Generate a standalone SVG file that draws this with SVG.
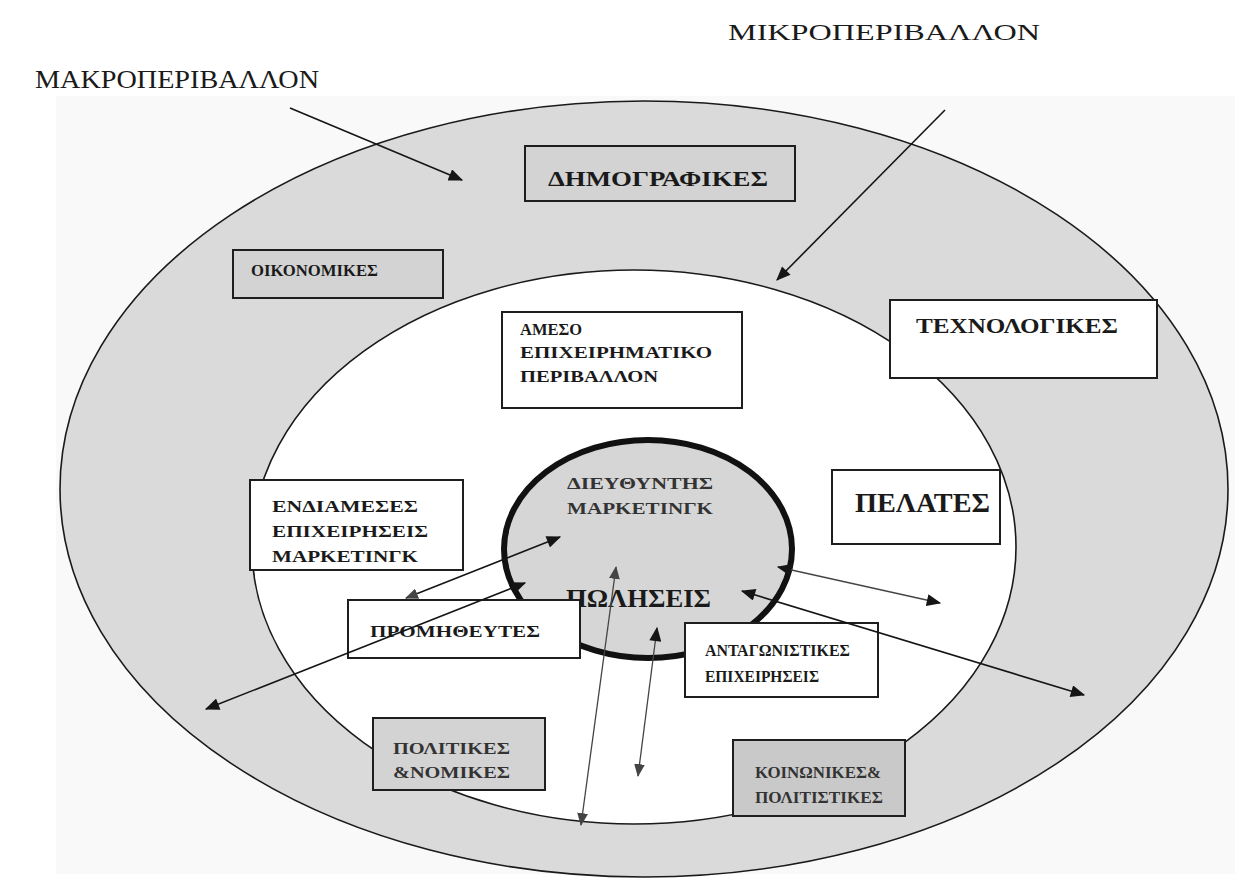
<svg xmlns="http://www.w3.org/2000/svg" width="1235" height="879" viewBox="0 0 1235 879">
<style>
  .lbl{font-family:"Liberation Serif","Times New Roman",serif;fill:#1a1a1a}
  .b{font-weight:bold}
  .dim{fill:#333}
  .box{stroke:#1e1e1e;stroke-width:2}
  .wbox{fill:#ffffff}
  .gbox{fill:#d3d3d3}
  .conn{fill:none;stroke:#151515;stroke-width:1.6}
  .connl{fill:none;stroke:#444;stroke-width:1.3}
</style>
<defs>
  <marker id="ah" viewBox="0 0 12 10" refX="11" refY="5" markerWidth="15" markerHeight="12" markerUnits="userSpaceOnUse" orient="auto-start-reverse">
    <path d="M0,0 L12,5 L0,10 z" fill="#151515"/>
  </marker>
  <marker id="ahg" viewBox="0 0 12 10" refX="11" refY="5" markerWidth="13" markerHeight="11" markerUnits="userSpaceOnUse" orient="auto-start-reverse">
    <path d="M0,0 L12,5 L0,10 z" fill="#444"/>
  </marker>
</defs>
<rect width="1235" height="879" fill="#ffffff"/>
<rect x="56" y="96" width="1179" height="778" fill="#f9f9f9"/>

<g id="macro-env">
  <ellipse cx="644" cy="489" rx="584" ry="388" fill="#dadada" stroke="#1a1a1a" stroke-width="1.6"/>
</g>
<g id="micro-env">
  <ellipse cx="634" cy="547" rx="382" ry="277" fill="#ffffff" stroke="#1a1a1a" stroke-width="1.6"/>
</g>
<g id="core">
  <ellipse cx="648" cy="549" rx="144" ry="109" fill="#d6d6d6" stroke="#111" stroke-width="6"/>
</g>

<g id="title-macro"><text class="lbl" x="35" y="88" font-size="26" textLength="284" lengthAdjust="spacingAndGlyphs">ΜΑΚΡΟΠΕΡΙΒΑΛΛΟΝ</text></g>
<g id="title-micro"><text class="lbl" x="728" y="40" font-size="24" textLength="312" lengthAdjust="spacingAndGlyphs">ΜΙΚΡΟΠΕΡΙΒΑΛΛΟΝ</text></g>

<g id="demografikes">
  <rect class="box gbox" x="525" y="146" width="270" height="55"/>
  <text class="lbl b" x="548" y="186" font-size="21" textLength="220" lengthAdjust="spacingAndGlyphs">ΔΗΜΟΓΡΑΦΙΚΕΣ</text>
</g>
<g id="oikonomikes">
  <rect class="box gbox" x="233" y="250" width="210" height="48"/>
  <text class="lbl b" x="251" y="276" font-size="17" textLength="127" lengthAdjust="spacingAndGlyphs">ΟΙΚΟΝΟΜΙΚΕΣ</text>
</g>
<g id="texnologikes">
  <rect class="box wbox" x="890" y="300" width="267" height="78"/>
  <text class="lbl b" x="916" y="333" font-size="22" textLength="202" lengthAdjust="spacingAndGlyphs">ΤΕΧΝΟΛΟΓΙΚΕΣ</text>
</g>
<g id="ameso">
  <rect class="box wbox" x="502" y="312" width="240" height="96"/>
  <text class="lbl b" x="520" y="335" font-size="17" textLength="62" lengthAdjust="spacingAndGlyphs">ΑΜΕΣΟ</text>
  <text class="lbl b" x="520" y="358" font-size="17" textLength="192" lengthAdjust="spacingAndGlyphs">ΕΠΙΧΕΙΡΗΜΑΤΙΚΟ</text>
  <text class="lbl b" x="520" y="382" font-size="17" textLength="138" lengthAdjust="spacingAndGlyphs">ΠΕΡΙΒΑΛΛΟΝ</text>
</g>
<g id="endiameses">
  <rect class="box wbox" x="250" y="480" width="213" height="90"/>
  <text class="lbl b" x="272" y="512" font-size="17" textLength="146" lengthAdjust="spacingAndGlyphs">ΕΝΔΙΑΜΕΣΕΣ</text>
  <text class="lbl b" x="272" y="537" font-size="17" textLength="156" lengthAdjust="spacingAndGlyphs">ΕΠΙΧΕΙΡΗΣΕΙΣ</text>
  <text class="lbl b" x="272" y="562" font-size="17" textLength="146" lengthAdjust="spacingAndGlyphs">ΜΑΡΚΕΤΙΝΓΚ</text>
</g>
<g id="dieythyntis">
  <text class="lbl b dim" x="567" y="489" font-size="17" textLength="146" lengthAdjust="spacingAndGlyphs">ΔΙΕΥΘΥΝΤΗΣ</text>
  <text class="lbl b dim" x="567" y="514" font-size="17" textLength="146" lengthAdjust="spacingAndGlyphs">ΜΑΡΚΕΤΙΝΓΚ</text>
</g>
<g id="pelates">
  <rect class="box wbox" x="832" y="470" width="168" height="74"/>
  <text class="lbl b" x="855" y="512" font-size="28" textLength="135" lengthAdjust="spacingAndGlyphs">ΠΕΛΑΤΕΣ</text>
</g>
<g id="poliseis">
  <text class="lbl b" x="566" y="607" font-size="26" textLength="145" lengthAdjust="spacingAndGlyphs">ΠΩΛΗΣΕΙΣ</text>
</g>
<g id="promitheytes">
  <rect class="box wbox" x="348" y="600" width="232" height="58"/>
  <text class="lbl b" x="370" y="637" font-size="17" textLength="170" lengthAdjust="spacingAndGlyphs">ΠΡΟΜΗΘΕΥΤΕΣ</text>
</g>
<g id="antagonistikes">
  <rect class="box wbox" x="685" y="623" width="193" height="74"/>
  <text class="lbl b" x="705" y="656" font-size="17" textLength="145" lengthAdjust="spacingAndGlyphs">ΑΝΤΑΓΩΝΙΣΤΙΚΕΣ</text>
  <text class="lbl b" x="705" y="682" font-size="17" textLength="114" lengthAdjust="spacingAndGlyphs">ΕΠΙΧΕΙΡΗΣΕΙΣ</text>
</g>
<g id="politikes">
  <rect class="box gbox" x="373" y="718" width="172" height="72"/>
  <text class="lbl b dim" x="393" y="754" font-size="17" textLength="117" lengthAdjust="spacingAndGlyphs">ΠΟΛΙΤΙΚΕΣ</text>
  <text class="lbl b dim" x="393" y="778" font-size="17" textLength="117" lengthAdjust="spacingAndGlyphs">&amp;ΝΟΜΙΚΕΣ</text>
</g>
<g id="koinonikes">
  <rect class="box" x="733" y="740" width="172" height="76" fill="#c9c9c9"/>
  <text class="lbl b dim" x="755" y="778" font-size="17" textLength="126" lengthAdjust="spacingAndGlyphs">ΚΟΙΝΩΝΙΚΕΣ&amp;</text>
  <text class="lbl b dim" x="755" y="803" font-size="17" textLength="128" lengthAdjust="spacingAndGlyphs">ΠΟΛΙΤΙΣΤΙΚΕΣ</text>
</g>

<g id="connectors">
  <path class="conn" d="M290,108 L462,180" marker-end="url(#ah)" stroke-width="2"/>
  <path class="conn" d="M945,110 L777,280" marker-end="url(#ah)"/>
  <path class="conn" d="M206,709 L525,583" marker-start="url(#ah)" marker-end="url(#ah)"/>
  <path class="conn" d="M406,598 L560,537" marker-start="url(#ahg)" marker-end="url(#ah)"/>
  <path class="connl" d="M616,567 L581,825" marker-start="url(#ahg)" marker-end="url(#ahg)"/>
  <path class="connl" d="M657,628 L638,776" marker-start="url(#ah)" marker-end="url(#ahg)"/>
  <path class="connl" d="M778,567 L940,603" marker-start="url(#ah)" marker-end="url(#ah)"/>
  <path class="conn" d="M742,591 L1084,695" marker-start="url(#ah)" marker-end="url(#ah)"/>
</g>
</svg>
